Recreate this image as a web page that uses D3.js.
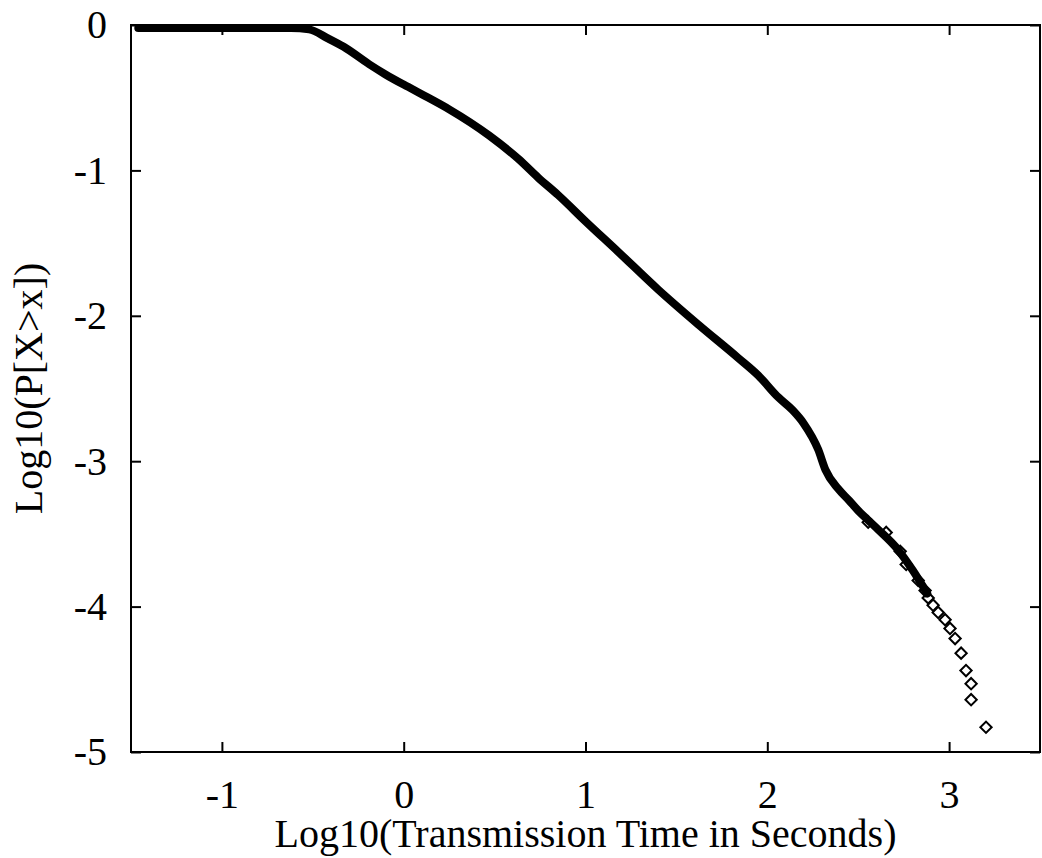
<!DOCTYPE html>
<html>
<head>
<meta charset="utf-8">
<script src="https://cdn.jsdelivr.net/npm/d3@7"></script>
<style>
  body { margin: 0; background: #fff; }
  text { font-family: "Liberation Serif", "Times New Roman", serif; fill: #000; }
</style>
</head>
<body>
<svg></svg>
<script>
// log10 of transmission time (dense part of the ccdf)
const denseX = [-1.46, -1.2, -0.9, -0.62, -0.52, -0.42, -0.33, -0.19, -0.1, 0.0, 0.12, 0.25, 0.47, 0.63, 0.74, 0.85, 1.0, 1.18, 1.4, 1.62, 1.84, 1.95, 2.06, 2.14, 2.2, 2.28, 2.32, 2.39, 2.45, 2.5, 2.55, 2.61, 2.72, 2.8, 2.88];
const denseY = [-0.02, -0.02, -0.02, -0.02, -0.03, -0.09, -0.15, -0.27, -0.34, -0.41, -0.49, -0.58, -0.76, -0.92, -1.05, -1.17, -1.35, -1.56, -1.82, -2.06, -2.29, -2.41, -2.56, -2.65, -2.74, -2.92, -3.06, -3.19, -3.27, -3.34, -3.4, -3.47, -3.61, -3.75, -3.91];

// sparse tail, single points
const tailX = [2.555, 2.654, 2.731, 2.764, 2.83, 2.868, 2.885, 2.912, 2.94, 2.978, 3.005, 3.033, 3.066, 3.093, 3.121, 3.121, 3.203];
const tailY = [-3.42, -3.49, -3.62, -3.71, -3.82, -3.89, -3.94, -3.99, -4.04, -4.09, -4.15, -4.22, -4.32, -4.44, -4.53, -4.64, -4.83];

const xTicks = [-1, 0, 1, 2, 3];
const yTicks = [0, -1, -2, -3, -4, -5];

const width = 1042, height = 858;
const margin = {top: 25, right: 2, bottom: 106, left: 131};
const innerWidth = width - margin.left - margin.right;
const innerHeight = height - margin.top - margin.bottom;

const svg = d3.select('svg')
  .attr('width', width)
  .attr('height', height)
  .style('background-color', '#fff');

const xScale = d3.scaleLinear().domain([-1.5, 3.5]).range([0, innerWidth]);
const yScale = d3.scaleLinear().domain([-5, 0]).range([innerHeight, 0]);

const g = svg.append('g')
  .attr('transform', `translate(${margin.left}, ${margin.top})`);

const styleAxis = sel => {
  sel.select('.domain').remove();
  sel.selectAll('line').attr('stroke', '#000').attr('stroke-width', 2);
  sel.selectAll('text').style('font-size', '40px').attr('fill', '#000');
};

g.append('g')
  .attr('transform', `translate(0, ${innerHeight})`)
  .call(d3.axisBottom(xScale).tickValues(xTicks).tickSize(-10).tickPadding(28).tickFormat(d3.format('d')))
  .call(styleAxis)
  .selectAll('text').text(d => d < 0 ? '-' + Math.abs(d) : d);

g.append('g')
  .call(d3.axisLeft(yScale).tickValues(yTicks).tickSize(-10).tickPadding(24))
  .call(styleAxis)
  .selectAll('text').text(d => d < 0 ? '-' + Math.abs(d) : d);

g.append('g')
  .call(d3.axisTop(xScale).tickValues(xTicks).tickSize(-10).tickFormat(''))
  .call(styleAxis);

g.append('g')
  .attr('transform', `translate(${innerWidth}, 0)`)
  .call(d3.axisRight(yScale).tickValues(yTicks).tickSize(-10).tickFormat(''))
  .call(styleAxis);

g.append('rect')
  .attr('width', innerWidth)
  .attr('height', innerHeight)
  .attr('fill', 'none')
  .attr('stroke', '#000')
  .attr('stroke-width', 2);

const dense = denseX.map((x, i) => ({x, y: denseY[i]}));
const tail = tailX.map((x, i) => ({x, y: tailY[i]}));

const lineGen = d3.line()
  .x(d => xScale(d.x))
  .y(d => yScale(d.y))
  .curve(d3.curveMonotoneX);

g.append('path')
  .attr('d', lineGen(dense))
  .attr('fill', 'none')
  .attr('stroke', '#000')
  .attr('stroke-width', 8)
  .attr('stroke-linecap', 'round')
  .attr('stroke-linejoin', 'round');

// open diamonds (gnuplot style) for the sparse tail
const diamond = d3.symbol(d3.symbolSquare, 64);
g.selectAll('.pt')
  .data(tail)
  .join('path')
    .attr('class', 'pt')
    .attr('d', diamond)
    .attr('transform', d => `translate(${xScale(d.x)}, ${yScale(d.y)}) rotate(45)`)
    .attr('fill', 'none')
    .attr('stroke', '#000')
    .attr('stroke-width', 2);

svg.append('text')
  .attr('x', margin.left + innerWidth / 2)
  .attr('y', 847)
  .attr('text-anchor', 'middle')
  .style('font-size', '40px')
  .text('Log10(Transmission Time in Seconds)');

svg.append('text')
  .attr('transform', `translate(42, ${margin.top + innerHeight / 2}) rotate(-90)`)
  .attr('text-anchor', 'middle')
  .style('font-size', '40px')
  .text('Log10(P[X>x])');
</script>
</body>
</html>
